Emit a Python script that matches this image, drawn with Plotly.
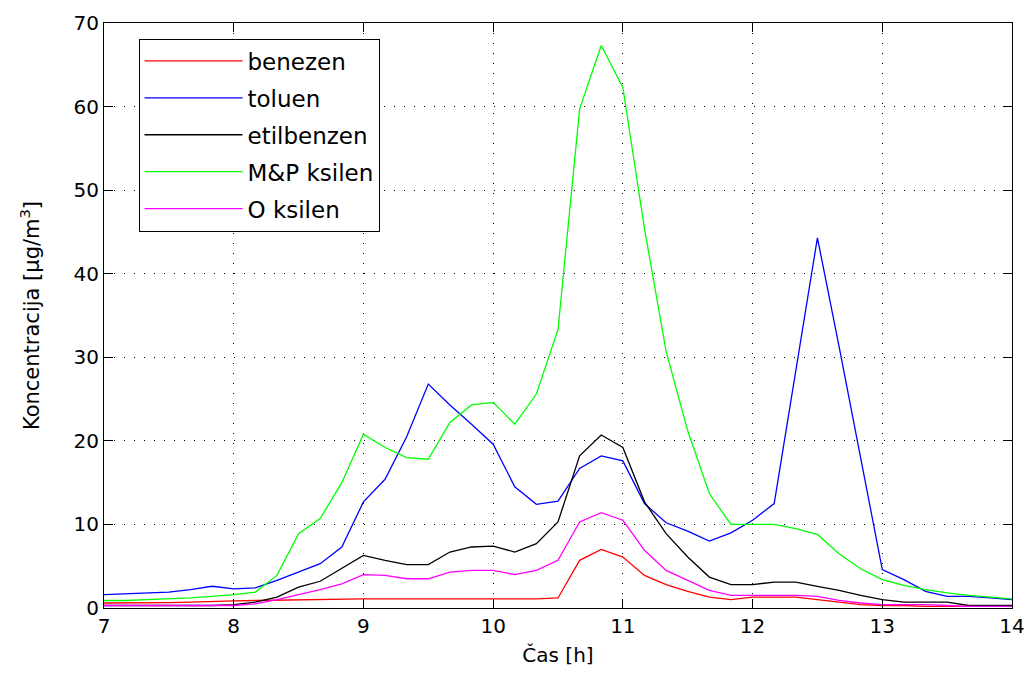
import plotly.graph_objects as go

# time axis: 10-minute samples from 7:00 to 14:00
time_h = [7 + i / 6 for i in range(43)]

benezen = [0.6, 0.6, 0.6, 0.65, 0.7, 0.8, 0.85, 0.9, 0.95, 1.0, 1.05, 1.1,
           1.1, 1.1, 1.1, 1.1, 1.1, 1.1, 1.1, 1.1, 1.1, 1.2,
           5.7, 7.0, 6.1, 3.9, 2.8, 2.0, 1.3, 1.0, 1.3, 1.3, 1.3, 1.0,
           0.7, 0.4, 0.3, 0.3, 0.2, 0.2, 0.2, 0.2, 0.2]

toluen = [1.6, 1.7, 1.8, 1.9, 2.2, 2.6, 2.3, 2.4, 3.3, 4.3, 5.3, 7.3,
          12.7, 15.4, 20.5, 26.8, 24.3, 22.0, 19.6, 14.5, 12.4, 12.8,
          16.7, 18.2, 17.6, 12.5, 10.2, 9.2, 8.0, 9.0, 10.5, 12.5, 28.3, 44.3,
          31.3, 17.8, 4.6, 3.4, 2.0, 1.4, 1.4, 1.2, 1.0]

etilbenzen = [0.3, 0.3, 0.3, 0.3, 0.3, 0.3, 0.4, 0.7, 1.3, 2.5, 3.2, 4.7,
              6.3, 5.7, 5.2, 5.2, 6.7, 7.3, 7.4, 6.7, 7.7, 10.3,
              18.2, 20.7, 19.2, 12.7, 8.9, 6.1, 3.7, 2.8, 2.8, 3.1, 3.1, 2.6,
              2.1, 1.5, 1.0, 0.7, 0.7, 0.7, 0.3, 0.3, 0.3]

mp_ksilen = [0.9, 0.9, 1.0, 1.1, 1.2, 1.4, 1.6, 1.9, 3.9, 8.9, 10.7, 15.0,
             20.8, 19.2, 18.0, 17.8, 22.2, 24.3, 24.6, 22.0, 25.6, 33.3,
             59.7, 67.3, 62.3, 45.4, 30.7, 21.2, 13.7, 10.0, 10.0, 10.0, 9.5, 8.8,
             6.5, 4.7, 3.4, 2.7, 2.2, 1.8, 1.5, 1.3, 1.1]

o_ksilen = [0.3, 0.3, 0.3, 0.3, 0.3, 0.3, 0.3, 0.5, 1.0, 1.6, 2.2, 2.9,
            4.0, 3.9, 3.5, 3.5, 4.3, 4.5, 4.5, 4.0, 4.5, 5.7,
            10.3, 11.4, 10.5, 6.9, 4.5, 3.3, 2.1, 1.5, 1.5, 1.5, 1.5, 1.4,
            0.9, 0.6, 0.4, 0.4, 0.4, 0.3, 0.2, 0.2, 0.2]

series_names = ["benezen", "toluen", "etilbenzen", "M&P ksilen", "O ksilen"]
series_values = [benezen, toluen, etilbenzen, mp_ksilen, o_ksilen]
series_colors = ["#ff0000", "#0000ff", "#000000", "#00ff00", "#ff00ff"]

x_ticks = [7, 8, 9, 10, 11, 12, 13, 14]
y_ticks = [0, 10, 20, 30, 40, 50, 60, 70]

FONT = "DejaVu Sans"

fig = go.Figure()
for i, (name, vals, col) in enumerate(zip(series_names, series_values, series_colors)):
    fig.add_trace(go.Scatter(
        x=time_h, y=vals, mode="lines", name=name,
        line=dict(color=col, width=1.3),
        legendgroup=f"g{i}",
    ))

axis_common = dict(
    showline=True, linecolor="#000000", linewidth=1, mirror="ticks",
    ticks="inside", ticklen=9, tickcolor="#000000", tickwidth=1,
    showgrid=True, gridcolor="#000000", gridwidth=1, griddash="1px,9px",
    zeroline=False, automargin=False,
    tickfont=dict(family=FONT, size=20, color="#000000"),
)

fig.update_xaxes(
    range=[7, 14], tickvals=x_ticks, ticktext=[str(v) for v in x_ticks],
    title=dict(text="Čas [h]", font=dict(family=FONT, size=20, color="#000000"), standoff=10),
    **axis_common,
)
fig.update_yaxes(
    range=[0, 70], tickvals=y_ticks, ticktext=[str(v) for v in y_ticks],
    title=dict(text="Koncentracija [μg/m<sup>3</sup>]", font=dict(family=FONT, size=21, color="#000000"), standoff=28),
    **axis_common,
)

fig.update_layout(
    width=1025, height=673,
    margin=dict(l=103.5, r=12.5, t=22.5, b=65),
    paper_bgcolor="#ffffff", plot_bgcolor="#ffffff",
    font=dict(family=FONT, size=20, color="#000000"),
    showlegend=True,
    legend=dict(
        x=0.038, y=0.9735, xanchor="left", yanchor="top",
        bgcolor="#ffffff", bordercolor="#000000", borderwidth=1,
        font=dict(family=FONT, size=23, color="#000000"),
        traceorder="grouped", tracegroupgap=4, itemwidth=98,
    ),
)

fig.write_html("out.html")
